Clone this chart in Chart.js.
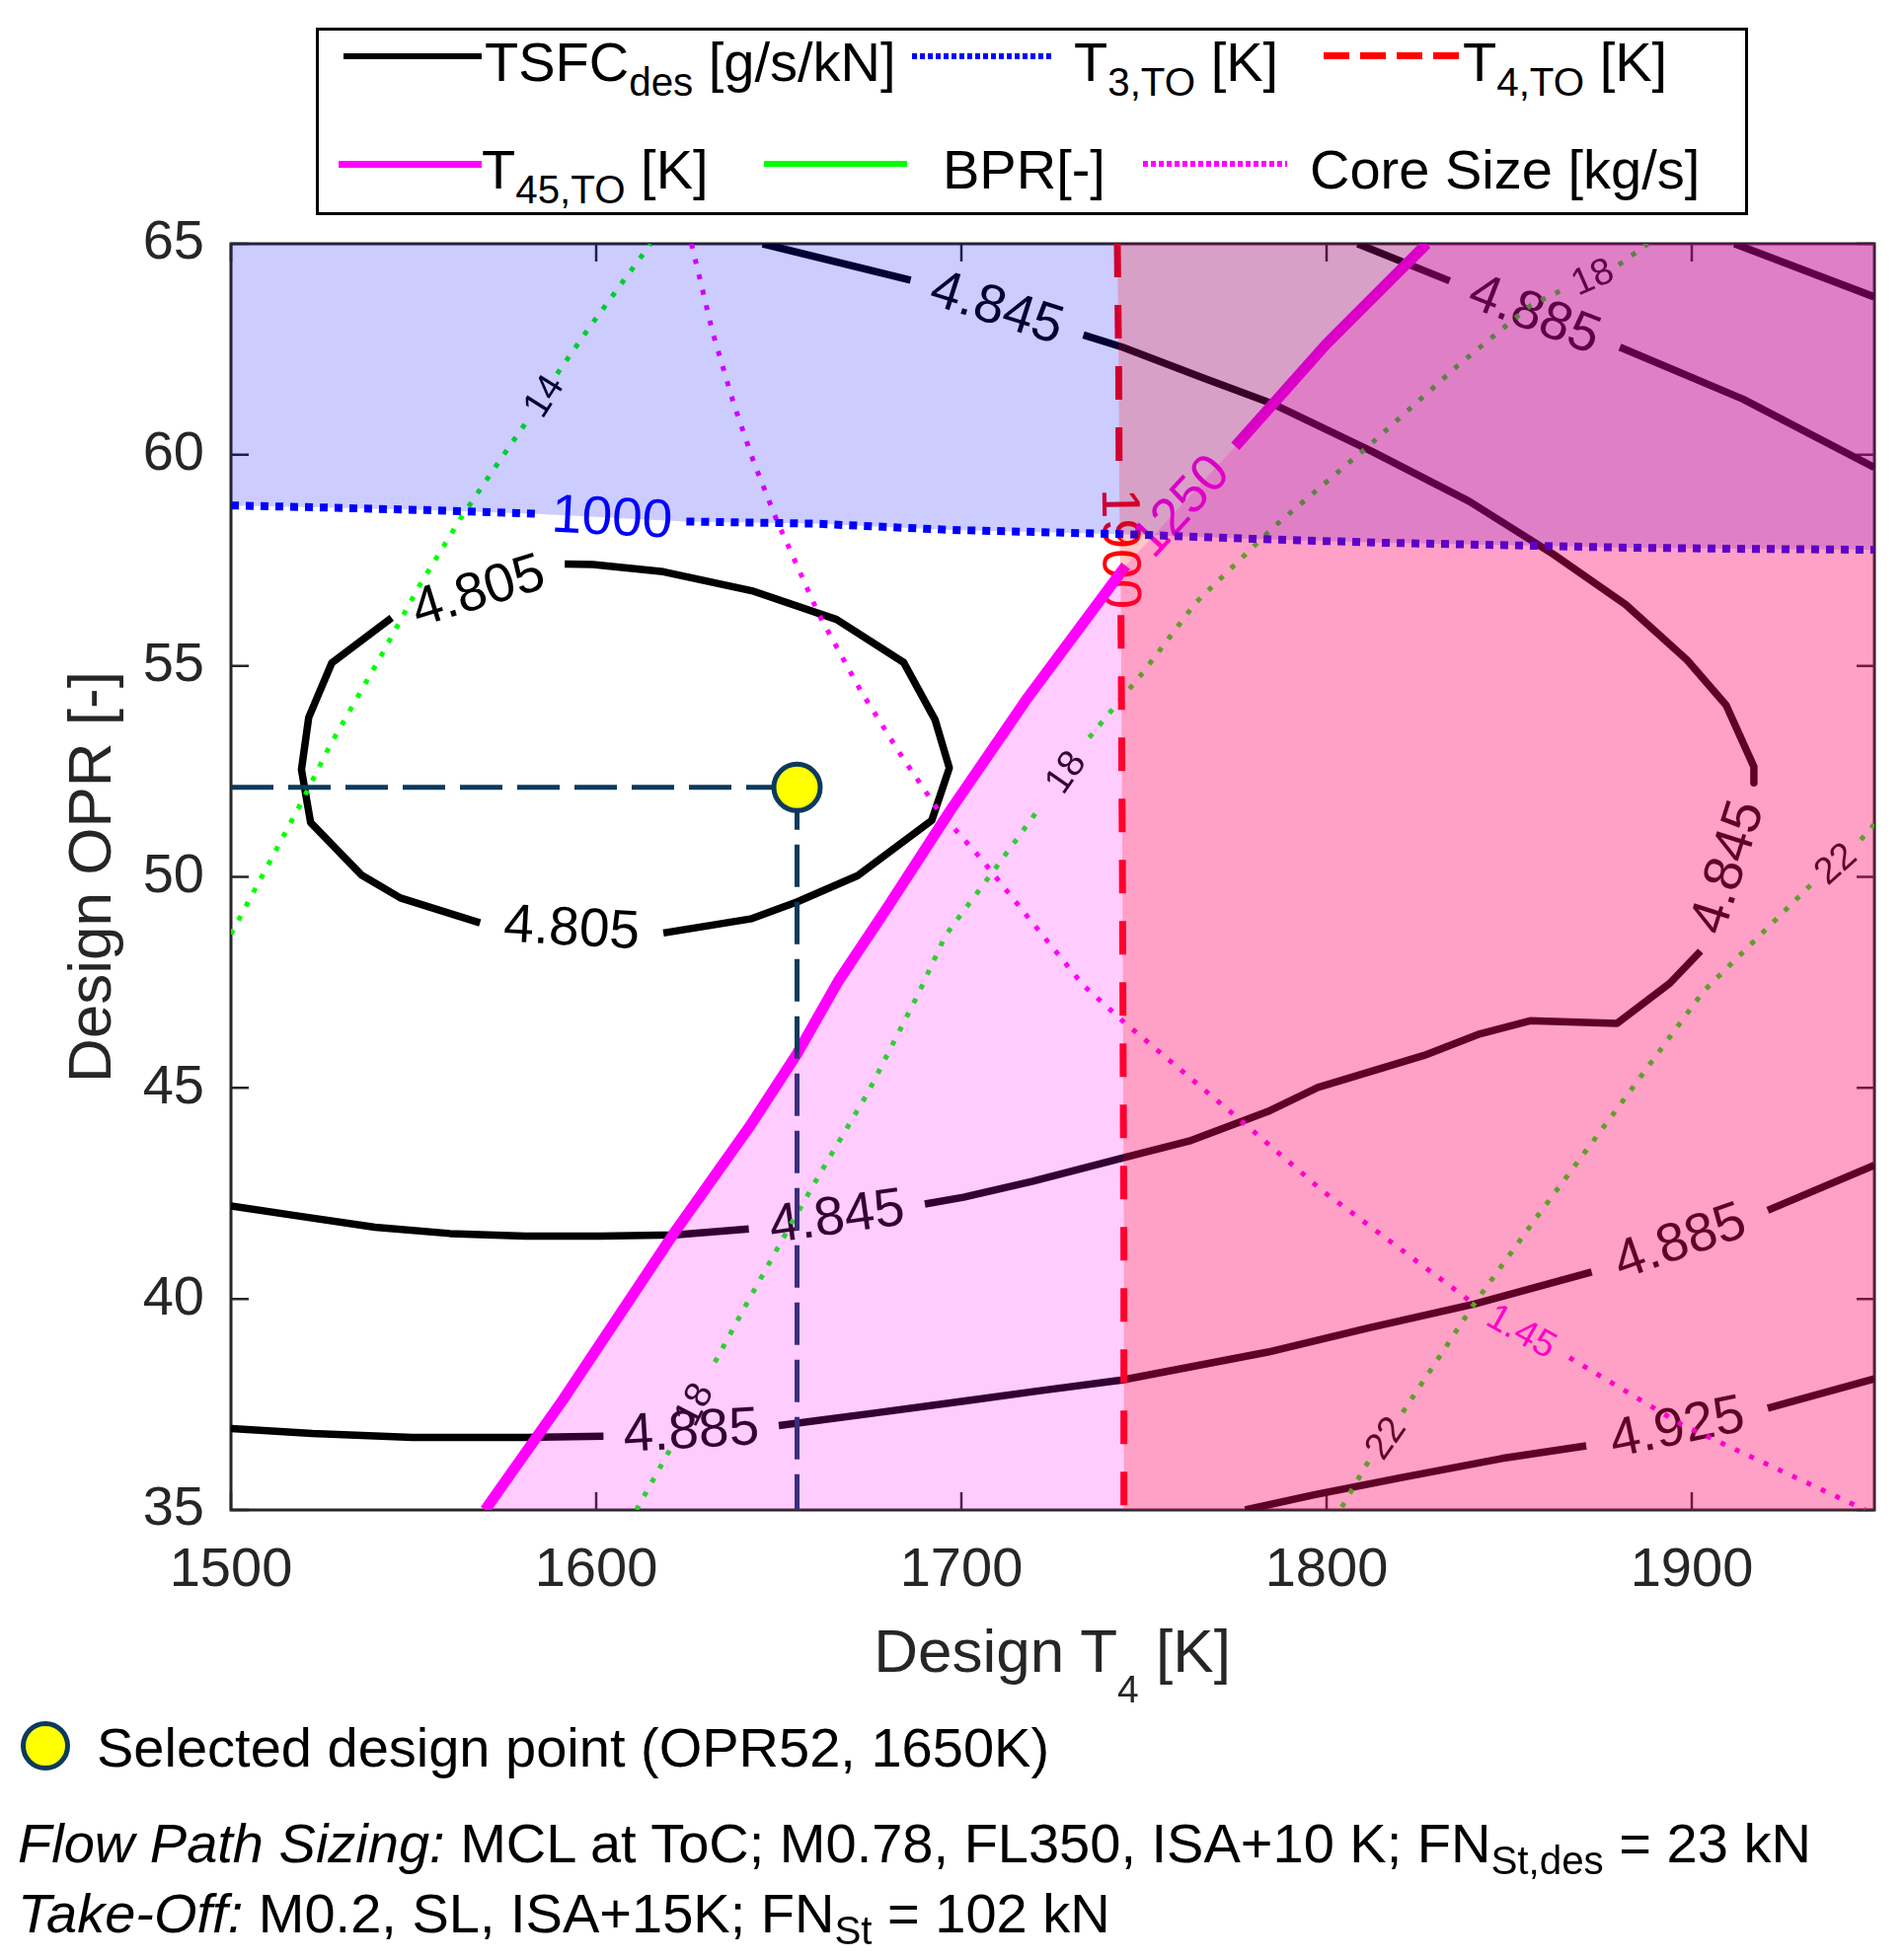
<!DOCTYPE html>
<html>
<head>
<meta charset="utf-8">
<title>Design space TSFC</title>
<script src="https://cdn.jsdelivr.net/npm/chart.js@4.4.1/dist/chart.umd.min.js"></script>
<style>
  html, body { margin: 0; padding: 0; background: #fff; }
  body { position: relative; width: 1929px; height: 1986px; overflow: hidden;
         font-family: "Liberation Sans", Arial, sans-serif; color: #000; }
  #wrap { position: absolute; left: 0; top: 0; width: 1929px; height: 1986px; }
  #legendBox { position: absolute; left: 320px; top: 28px; width: 1445px; height: 184px; border: 3px solid #000; background: #fff; }
  .txt { position: absolute; font-size: 56px; line-height: 56px; white-space: nowrap; }
  .txt sub { font-size: 72%; vertical-align: -0.38em; line-height: 0; }
  .swatch { position: absolute; }
  .note { position: absolute; font-size: 56px; line-height: 56px; white-space: nowrap; }
  .note sub { font-size: 72%; vertical-align: -0.3em; line-height: 0; }
  #xTitle { position: absolute; left: 766px; width: 600px; top: 1642px; text-align: center;
            font-size: 62px; line-height: 62px; color: #262626; white-space: nowrap; }
  #xTitle sub { font-size: 63%; vertical-align: -0.8em; line-height: 0; }
  #dot { position: absolute; left: 21px; top: 1744px; width: 40px; height: 40px;
         border: 5px solid #0b3a5b; border-radius: 50%; background: #ffff00; }
</style>
</head>
<body>
<div id="wrap"><canvas id="chart"></canvas></div>

<div id="legendBox"></div>
<div class="swatch" style="left:348px;top:54px;width:140px;height:6px;background:#000"></div>
<div class="txt" style="left:491px;top:35px">TSFC<sub>des</sub> [g/s/kN]</div>
<div class="swatch" style="left:924px;top:54px;width:141px;height:6px;background:repeating-linear-gradient(90deg,#0000ff 0 5px,transparent 5px 8px)"></div>
<div class="txt" style="left:1088px;top:35px">T<sub>3,TO</sub> [K]</div>
<div class="swatch" style="left:1341px;top:53px;width:137px;height:7px;background:repeating-linear-gradient(90deg,#ff0000 0 26px,transparent 26px 37px)"></div>
<div class="txt" style="left:1482px;top:35px">T<sub>4,TO</sub> [K]</div>
<div class="swatch" style="left:343px;top:163px;width:145px;height:7px;background:#ff00ff"></div>
<div class="txt" style="left:488px;top:144px">T<sub>45,TO</sub> [K]</div>
<div class="swatch" style="left:774px;top:163px;width:145px;height:6px;background:#00ff00"></div>
<div class="txt" style="left:955px;top:144px">BPR[-]</div>
<div class="swatch" style="left:1158px;top:163px;width:146px;height:6px;background:repeating-linear-gradient(90deg,#ff00ff 0 5px,transparent 5px 8px)"></div>
<div class="txt" style="left:1327px;top:144px">Core Size [kg/s]</div>

<div id="xTitle">Design T<sub>4</sub> [K]</div>

<div id="dot"></div>
<div class="note" style="left:98px;top:1743px">Selected design point (OPR52, 1650K)</div>
<div class="note" style="left:18px;top:1840px"><i>Flow Path Sizing:</i> MCL at ToC; M0.78, FL350, ISA+10 K; FN<sub>St,des</sub> = 23 kN</div>
<div class="note" style="left:18px;top:1911px"><i>Take-Off:</i> M0.2, SL, ISA+15K; FN<sub>St</sub> = 102 kN</div>

<script>
const FONT = '"Liberation Sans", Arial, sans-serif';

// axes
const xRange = [1500, 1950];
const yRange = [35, 65];
const xTickValues = [1500, 1600, 1700, 1800, 1900];
const yTickValues = [35, 40, 45, 50, 55, 60, 65];

// selected design point [T4, OPR]
const designPoint = [1655, 52.12];

// TSFC contours [T4, OPR], null = label gap
const tsfc4805 = [
  [1591.4, 57.41], [1599.1, 57.40], [1618.4, 57.23], [1642.6, 56.78], [1665.8, 56.10], [1684.2, 55.08],
  [1692.8, 53.72], [1696.7, 52.58], [1691.9, 51.34], [1671.6, 50.03], [1655.1, 49.41], [1642.6, 49.01], [1618.4, 48.67],
  null,
  [1568.2, 48.91], [1546.4, 49.50], [1535.8, 50.04], [1521.8, 51.29], [1519.3, 52.54], [1521.3, 53.78], [1527.6, 55.07], [1544.0, 56.14],
  null,
  [1591.4, 57.41]
];
const tsfc4845 = [
  [1645.6, 65.00], [1686.1, 64.14],
  null,
  [1733.4, 62.84], [1744.1, 62.55], [1765.7, 61.84], [1785.5, 61.20], [1812.0, 60.10], [1839.0, 58.90], [1862.0, 57.65],
  [1881.9, 56.45], [1898.7, 55.14], [1909.4, 54.07], [1917.0, 52.61], [1917.0, 52.23],
  null,
  [1902.4, 48.24], [1894.0, 47.48], [1879.5, 46.53], [1855.7, 46.59], [1842.0, 46.28], [1826.7, 45.77], [1797.6, 45.01],
  [1783.9, 44.44], [1762.4, 43.74], [1744.1, 43.34], [1719.6, 42.79], [1700.6, 42.41], [1690.0, 42.25],
  null,
  [1641.8, 41.66], [1621.7, 41.52], [1601.1, 41.49], [1580.6, 41.49], [1560.0, 41.55], [1539.4, 41.70], [1518.9, 41.96], [1500.0, 42.20]
];
const tsfc4885Low = [
  [1500.0, 36.93], [1522.3, 36.81], [1549.7, 36.72], [1580.6, 36.72], [1602.0, 36.75],
  null,
  [1650.0, 37.00], [1676.6, 37.30], [1700.6, 37.58], [1721.1, 37.82], [1744.1, 38.08], [1783.9, 38.74], [1811.4, 39.31], [1840.4, 39.88], [1872.6, 40.64],
  null,
  [1920.8, 42.10], [1950.0, 43.17]
];
const tsfc4925Low = [
  [1777.7, 35.00], [1796.6, 35.36], [1820.6, 35.77], [1848.0, 36.22], [1871.1, 36.52],
  null,
  [1920.8, 37.41], [1950.0, 38.11]
];
const tsfc4885High = [
  [1808.5, 65.00], [1833.7, 64.12],
  null,
  [1880.3, 62.55], [1914.0, 61.32], [1950.0, 59.70]
];
const tsfc4925High = [[1911.7, 65.00], [1950.0, 63.74]];

// constraint lines
const t3Line = [
  [1500.0, 58.80], [1525.7, 58.75], [1553.1, 58.69], [1584.0, 58.60],
  null,
  [1624.7, 58.42], [1659.4, 58.37], [1697.1, 58.22], [1744.1, 58.12], [1779.4, 58.01], [1813.7, 57.92],
  [1848.0, 57.86], [1882.3, 57.80], [1916.6, 57.77], [1950.0, 57.75]
];
const t4Line = [
  [1742.7, 65.00], [1743.1, 61.89], [1743.2, 59.35],
  null,
  [1743.7, 56.20], [1744.1, 50.05], [1744.5, 41.16], [1744.5, 35.00]
];
const t45Line = [
  [1569.6, 35.00], [1590.9, 37.61], [1621.7, 41.61], [1642.3, 44.12], [1655.0, 45.81], [1666.3, 47.53],
  [1680.0, 49.31], [1697.1, 51.59], [1717.7, 54.19], [1745.0, 57.37],
  null,
  [1775.0, 60.20], [1800.0, 62.63], [1827.4, 65.00]
];
const coreLine = [
  [1626.1, 65.00], [1631.9, 62.90], [1637.7, 61.20], [1643.1, 59.84], [1649.3, 58.48], [1661.0, 56.21], [1672.5, 54.40],
  [1683.2, 52.92], [1693.8, 51.56], [1705.4, 50.43], [1718.0, 49.07], [1733.4, 47.43], [1744.1, 46.59], [1776.2, 44.25],
  [1799.2, 42.54], [1840.4, 39.88],
  null,
  [1866.5, 38.61], [1897.1, 37.03], [1947.5, 35.00]
];
const bpr14 = [
  [1500.0, 48.64], [1519.7, 51.83], [1526.9, 53.08], [1541.3, 55.27], [1551.2, 56.84], [1563.0, 58.51], [1571.1, 59.55], [1581.7, 60.88],
  null,
  [1589.3, 61.92], [1598.0, 63.00], [1614.9, 65.00]
];
const bpr18 = [
  [1611.0, 35.00], [1620.8, 36.52],
  null,
  [1632.5, 38.50], [1641.1, 39.87], [1653.2, 41.75], [1661.9, 43.06], [1674.5, 44.90], [1688.0, 47.19], [1695.7, 48.62],
  [1709.3, 50.20], [1721.8, 51.68],
  null,
  [1735.0, 53.30], [1749.8, 54.85], [1764.1, 56.49], [1785.5, 58.29], [1811.5, 60.21], [1836.0, 62.12], [1855.9, 63.54], [1865.5, 63.95],
  null,
  [1880.0, 64.50], [1888.0, 65.00]
];
const bpr22 = [
  [1950.0, 51.25], [1946.0, 50.85],
  null,
  [1932.5, 49.80], [1903.2, 47.29], [1879.5, 44.50], [1857.3, 41.91], [1840.4, 39.88], [1820.6, 37.28],
  null,
  [1811.4, 36.14], [1803.7, 35.00]
];

const toPts = a => a.map(p => p ? { x: p[0], y: p[1] } : { x: null, y: null });
const solid = a => a.filter(p => p);

// feasibility-violating regions
const blueFill = solid(t3Line);
const t45Fill = [...solid(t45Line), [xRange[1], yRange[1]]];
const t4Fill = [...solid(t4Line), [xRange[1], yRange[0]], [xRange[1], yRange[1]]];

const guideH = [[xRange[0], designPoint[1]], designPoint];
const guideV = [designPoint, [designPoint[0], yRange[0]]];

const contourLabels = [
  { series: tsfc4805, text: '4.805', color: '#000', size: 55 },
  { series: tsfc4845, text: '4.845', color: '#000', size: 55 },
  { series: tsfc4885Low, text: '4.885', color: '#000', size: 55 },
  { series: tsfc4885High, text: '4.885', color: '#000', size: 55 },
  { series: tsfc4925Low, text: '4.925', color: '#000', size: 55 },
  { series: t3Line, text: '1000', color: '#0000ff', size: 55 },
  { series: t4Line, text: '1900', color: '#ff0000', size: 55 },
  { series: t45Line, text: '1250', color: '#ff00ff', size: 53 },
  { series: bpr14, text: '14', color: '#000', size: 38 },
  { series: bpr18, text: '18', color: '#000', size: 38 },
  { series: bpr22, text: '22', color: '#000', size: 38 },
  { series: coreLine, text: '1.45', color: '#ff00ff', size: 38 }
];

// axes box with inward ticks on all four sides (drawn under the shaded regions)
const boxPlugin = {
  id: 'box',
  beforeDatasetsDraw(chart) {
    const { ctx, chartArea: a, scales: { x, y } } = chart;
    ctx.save();
    ctx.strokeStyle = '#262626';
    ctx.lineWidth = 3;
    ctx.strokeRect(a.left, a.top, a.right - a.left, a.bottom - a.top);
    ctx.lineWidth = 2.5;
    ctx.beginPath();
    xTickValues.forEach(v => {
      const px = x.getPixelForValue(v);
      ctx.moveTo(px, a.bottom); ctx.lineTo(px, a.bottom - 18);
      ctx.moveTo(px, a.top); ctx.lineTo(px, a.top + 18);
    });
    yTickValues.forEach(v => {
      const py = y.getPixelForValue(v);
      ctx.moveTo(a.left, py); ctx.lineTo(a.left + 18, py);
      ctx.moveTo(a.right, py); ctx.lineTo(a.right - 18, py);
    });
    ctx.stroke();
    ctx.restore();
  }
};

// inline contour labels, placed in the gaps of each line
const labelPlugin = {
  id: 'contourLabels',
  beforeDatasetsDraw(chart) {
    const { ctx, scales: { x, y } } = chart;
    ctx.save();
    ctx.textAlign = 'center';
    ctx.textBaseline = 'middle';
    contourLabels.forEach(l => {
      ctx.font = `${l.size}px ${FONT}`;
      ctx.fillStyle = l.color;
      const s = l.series;
      for (let i = 1; i < s.length - 1; i++) {
        if (s[i] !== null || !s[i - 1] || !s[i + 1]) continue;
        const ax = x.getPixelForValue(s[i - 1][0]), ay = y.getPixelForValue(s[i - 1][1]);
        const bx = x.getPixelForValue(s[i + 1][0]), by = y.getPixelForValue(s[i + 1][1]);
        let ang = Math.atan2(by - ay, bx - ax);
        if (ang > Math.PI / 2 + 1e-6) ang -= Math.PI;
        if (ang < -Math.PI / 2) ang += Math.PI;
        ctx.save();
        ctx.translate((ax + bx) / 2, (ay + by) / 2);
        ctx.rotate(ang);
        ctx.fillText(l.text, 0, 2);
        ctx.restore();
      }
    });
    ctx.restore();
  }
};

const lineDs = (data, color, width, dash, order) => ({
  data: toPts(data),
  borderColor: color,
  borderWidth: width,
  borderDash: dash,
  fill: false,
  pointRadius: 0,
  order
});

const fillDs = (data, color, fill, order) => ({
  data: toPts(data),
  borderWidth: 0,
  borderColor: 'rgba(0,0,0,0)',
  backgroundColor: color,
  fill,
  pointRadius: 0,
  order
});

new Chart(document.getElementById('chart'), {
  type: 'line',
  data: {
    datasets: [
      fillDs(t4Fill, 'rgba(255,0,0,0.22)', 'shape', 0),
      fillDs(t45Fill, 'rgba(255,0,255,0.2)', 'start', 1),
      fillDs(blueFill, 'rgba(0,0,255,0.2)', 'end', 2),
      {
        data: toPts([designPoint]),
        showLine: false,
        pointRadius: 23.5,
        pointHoverRadius: 23.5,
        pointBorderWidth: 5,
        pointBackgroundColor: '#ffff00',
        pointBorderColor: '#0b3a5b',
        order: 3
      },
      lineDs(guideH, '#0b3a5b', 5, [43, 15], 4),
      lineDs(guideV, '#0b3a5b', 5, [43, 15], 4),
      lineDs(t45Line, '#ff00ff', 11, [], 5),
      lineDs(t4Line, '#ff0000', 7, [34, 28], 6),
      lineDs(t3Line, '#0000ff', 8, [8, 7], 7),
      lineDs(coreLine, '#ff00ff', 5, [5, 11], 8),
      lineDs(bpr14, '#00ff00', 5, [5, 11], 9),
      lineDs(bpr18, '#00ff00', 5, [5, 11], 9),
      lineDs(bpr22, '#00ff00', 5, [5, 11], 9),
      lineDs(tsfc4805, '#000', 7.5, [], 10),
      lineDs(tsfc4845, '#000', 7.5, [], 10),
      lineDs(tsfc4885Low, '#000', 7.5, [], 10),
      lineDs(tsfc4925Low, '#000', 7.5, [], 10),
      lineDs(tsfc4885High, '#000', 7.5, [], 10),
      lineDs(tsfc4925High, '#000', 7.5, [], 10)
    ]
  },
  options: {
    responsive: true,
    maintainAspectRatio: false,
    animation: false,
    events: [],
    layout: { padding: { left: 0, right: 30, top: 247, bottom: 336 } },
    elements: {
      point: { radius: 0, hoverRadius: 0 },
      line: { tension: 0, borderCapStyle: 'butt', borderJoinStyle: 'round' }
    },
    plugins: { legend: { display: false }, tooltip: { enabled: false } },
    scales: {
      x: {
        type: 'linear',
        min: xRange[0],
        max: xRange[1],
        grid: { display: false, drawTicks: false },
        border: { display: false },
        ticks: {
          font: { family: FONT, size: 56 }, color: '#262626', padding: 28, maxRotation: 0, autoSkip: false,
          callback: v => String(v)
        },
        afterBuildTicks: s => { s.ticks = xTickValues.map(v => ({ value: v })); },
        afterFit: s => { s.height = 120; }
      },
      y: {
        type: 'linear',
        min: yRange[0],
        max: yRange[1],
        grid: { display: false, drawTicks: false },
        border: { display: false },
        ticks: {
          font: { family: FONT, size: 56 }, color: '#262626', padding: 27, autoSkip: false,
          callback: v => String(v)
        },
        afterBuildTicks: s => { s.ticks = yTickValues.map(v => ({ value: v })); },
        afterFit: s => { s.width = 234; },
        title: {
          display: true,
          text: 'Design OPR [-]',
          color: '#262626',
          font: { family: FONT, size: 62 },
          padding: { top: 58, bottom: 0 }
        }
      }
    }
  },
  plugins: [boxPlugin, labelPlugin]
});
</script>
</body>
</html>
